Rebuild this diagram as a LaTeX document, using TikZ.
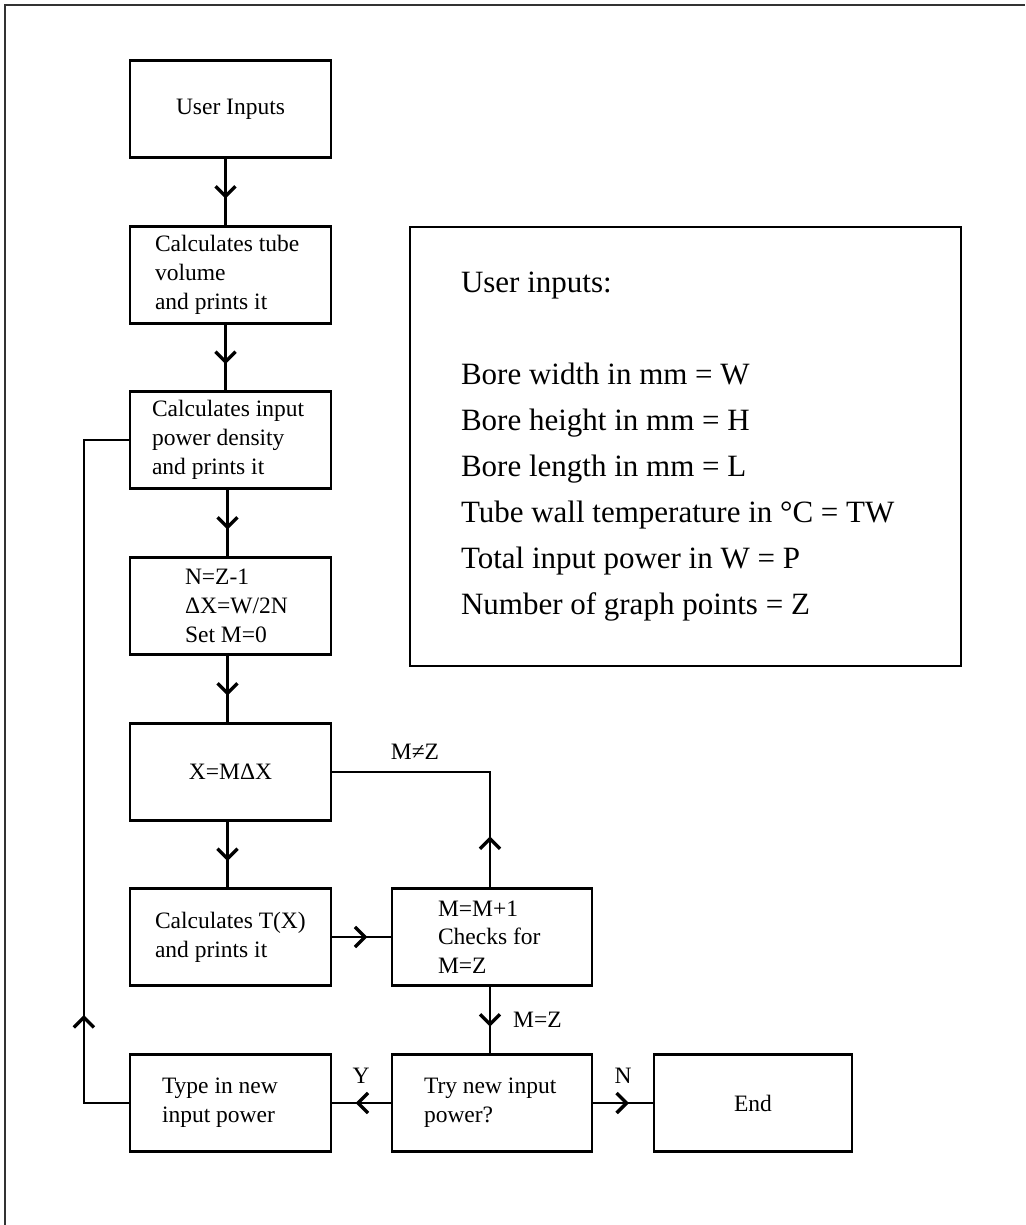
\documentclass[tikz,border=0pt]{standalone}
\usepackage{fontspec}
\setmainfont{Liberation Serif}
\newfontfamily\infofam{Liberation Serif}
\usetikzlibrary{arrows.meta,decorations.markings}
\newcommand\flowsz{\fontsize{23.5pt}{28.7pt}\selectfont}
\newcommand\infosz{\infofam\fontsize{31pt}{46pt}\selectfont}
\begin{document}
\begin{tikzpicture}[x=1pt,y=-1pt,
  fbox/.style={draw, line width=2.2pt, font=\flowsz, minimum width=201pt, minimum height=97pt, inner ysep=0pt, align=center},
  conn/.style={line width=2.4pt},
  thinconn/.style={line width=1.7pt},
  chev/.style={postaction={decorate}, decoration={markings, mark=at position #1 with {\arrow{Straight Barb[length=10pt,width=20pt,line width=3.4pt]}}}},
  chev/.default=0.6,
  lbl/.style={font=\flowsz, inner sep=0pt}
]
\useasboundingbox[fill=white] (0,0) rectangle (1025,1225);
% frame
\draw[line width=2.2pt, black!80] (5,1225) -- (5,5) -- (1025,5);

% boxes
\node[fbox] (b1) at (230.5,109) {User Inputs};
\node[fbox, align=flush left, inner xsep=25pt, text width=151pt] (b2) at (230.5,275) {Calculates tube\\volume\\and prints it};
\node[fbox, align=flush left, inner xsep=22pt, text width=157pt] (b3) at (230.5,440) {Calculates input\\power density\\and prints it};
\node[fbox, align=flush left, inner xsep=55pt, text width=91pt] (b4) at (230.5,606) {N=Z-1\\ΔX=W/2N\\Set M=0};
\node[fbox] (b5) at (230.5,772) {X=MΔX};
\node[fbox, align=flush left, inner xsep=25pt, text width=151pt] (b6) at (230.5,937) {Calculates T(X)\\and prints it};
\node[fbox, minimum width=200pt, align=flush left, inner xsep=46pt, text width=108pt] (b7) at (492,937) {M=M+1\\Checks for\\M=Z};
\node[fbox, minimum width=200pt, align=flush left, inner xsep=32pt, text width=136pt] (b8) at (492,1103) {Try new input\\power?};
\node[fbox, align=flush left, inner xsep=32pt, text width=137pt] (b9) at (230.5,1103) {Type in new\\input power};
\node[fbox, minimum width=198pt] (end) at (753,1103) {End};

% info box
\node[draw, line width=2.2pt, font=\infosz, align=flush left, inner xsep=51pt, text width=449pt, minimum height=439pt, inner ysep=0pt] (info) at (685.5,446.5)
  {User inputs:\\[46pt]Bore width in mm = W\\Bore height in mm = H\\Bore length in mm = L\\Tube wall temperature in °C = TW\\Total input power in W = P\\Number of graph points = Z};

% connectors
\draw[conn, chev] ([xshift=-5pt]b1.south) -- ([xshift=-5pt]b2.north);
\draw[conn, chev] ([xshift=-5pt]b2.south) -- ([xshift=-5pt]b3.north);
\draw[conn, chev] ([xshift=-3pt]b3.south) -- ([xshift=-3pt]b4.north);
\draw[conn, chev] ([xshift=-3pt]b4.south) -- ([xshift=-3pt]b5.north);
\draw[conn, chev] ([xshift=-3pt]b5.south) -- ([xshift=-3pt]b6.north);
\draw[conn, chev] (b6) -- (b7);
\draw[thinconn, chev=51pt] ([xshift=-2pt]b7.north) |- (b5.east);
\draw[conn, chev] ([xshift=-2pt]b7.south) -- ([xshift=-2pt]b8.north);
\draw[conn, chev] (b8) -- (b9);
\draw[conn, chev] (b8) -- (end);
\draw[thinconn, chev=133pt] (b9.west) -- ++(-45,0) |- (b3.west);

% labels
\node[lbl] (lne) at (415,752) {M≠Z};
\node[lbl, anchor=west] (lmz) at (513,1020) {M=Z};
\node[lbl] (ly) at (361,1076) {Y};
\node[lbl] (ln) at (623,1076) {N};
\end{tikzpicture}
\end{document}
